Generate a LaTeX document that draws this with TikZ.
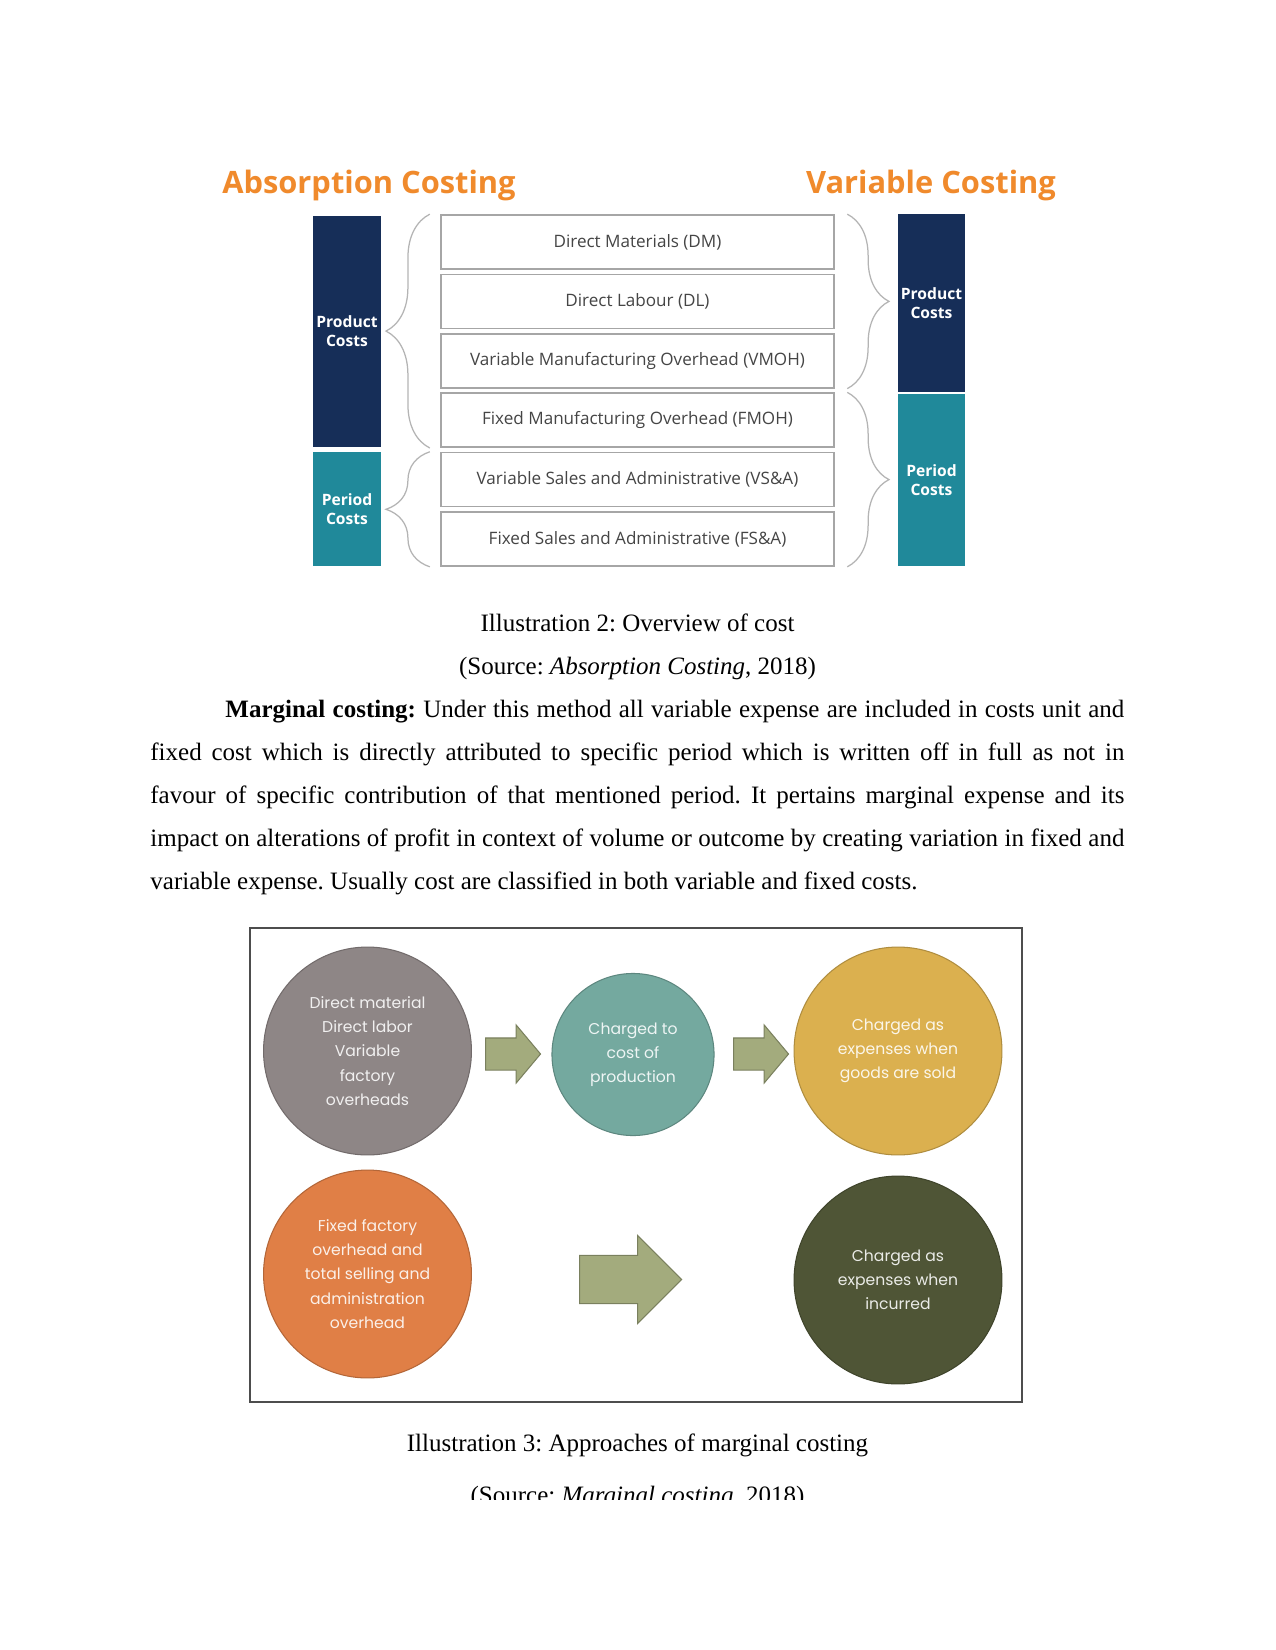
\documentclass[tikz,border=0pt]{standalone}
\usepackage{fontspec}
\setmainfont{Liberation Serif}
\newfontfamily\uifont{Open Sans}
\newfontfamily\roundfont{Poppins}
\usetikzlibrary{shapes.arrows,decorations.pathreplacing}
\frenchspacing
\definecolor{titleorange}{HTML}{F08A2C}
\definecolor{navybar}{HTML}{162E58}
\definecolor{tealbar}{HTML}{20899A}
\definecolor{boxline}{HTML}{A6A6A6}
\definecolor{boxtext}{HTML}{454545}
\definecolor{bracegray}{HTML}{B4B4B4}
\definecolor{greycirc}{HTML}{8E8686}
\definecolor{tealcirc}{HTML}{74A99F}
\definecolor{goldcirc}{HTML}{DBB04F}
\definecolor{orangecirc}{HTML}{E07F46}
\definecolor{olivecirc}{HTML}{4F5536}
\definecolor{arrowgreen}{HTML}{A3AB7D}
\definecolor{framegray}{HTML}{4D4D4D}
\begin{document}
\begin{tikzpicture}[x=0.48pt,y=-0.48pt,
  title/.style={inner sep=0, text=titleorange, font=\uifont\bfseries\fontsize{14.8}{17}\selectfont},
  costbox/.style={draw=boxline, line width=0.8pt, fill=white, minimum width=188.6pt, minimum height=25.9pt,
    inner sep=0, text=boxtext, font=\uifont\fontsize{8.2}{9.8}\selectfont},
  bar/.style={minimum width=32.6pt, inner sep=0, align=center, text=white, font=\uifont\bfseries\fontsize{7.5}{9}\selectfont},
  brc/.style={draw=bracegray, line width=0.6pt, decorate, decoration={brace, amplitude=#1}},
  capt/.style={anchor=base, inner sep=0, font=\fontsize{12}{14}\selectfont},
  disc/.style={circle, fill=#1, draw=#1!80!black, line width=0.5pt, inner sep=0, align=center,
    text=#1!12!white, font=\roundfont\fontsize{7.5}{11.6}\selectfont},
  blockarrow/.style={single arrow, anchor=tail, fill=arrowgreen, draw=arrowgreen!75!black, line width=0.5pt, inner xsep=0}]
\useasboundingbox[fill=white] (0,0) rectangle (1275,1650);

\node[title] (abs) at (369,185) {Absorption Costing};
\node[title] (var) at (931,185) {Variable Costing};

\foreach \i/\t in {1/Direct Materials (DM), 2/Direct Labour (DL), 3/Variable Manufacturing Overhead (VMOH),
    4/Fixed Manufacturing Overhead (FMOH), 5/Variable Sales and Administrative (VS\&A), 6/Fixed Sales and Administrative (FS\&A)}
  \node[costbox] (b\i) at (637.5,{242+59.4*(\i-1)}) {\t};

\node[bar, fill=navybar, minimum height=110.9pt] (lprod) at (347,331.5) {Product\\Costs};
\node[bar, fill=tealbar, minimum height=54.7pt] (lper) at (347,509) {Period\\Costs};
\node[bar, fill=navybar, minimum height=85.9pt] (rprod) at (931.5,303) {Product\\Costs};
\node[bar, fill=tealbar, minimum height=82.6pt] (rper) at (931.5,480) {Period\\Costs};

\draw[brc=21pt] ([xshift=-5pt]b4.south west) -- ([xshift=-5pt]b1.north west);
\draw[brc=21pt] ([xshift=-5pt]b6.south west) -- ([xshift=-5pt]b5.north west);
\draw[brc=20pt] ([xshift=6pt]b1.north east) -- ([xshift=6pt]b3.south east);
\draw[brc=20pt] ([xshift=6pt]b4.north east) -- ([xshift=6pt]b6.south east);

\node[capt] (cap2) at (637.5,631) {Illustration 2: Overview of cost};
\node[capt] (src2) at (637.5,674) {(Source: \textit{Absorption Costing}, 2018)};

\node[anchor=base west, inner sep=0, text width=467.5pt, align=justify, font=\fontsize{12}{20.7}\selectfont] (para) at (150,717)
  {\hspace*{36pt}\textbf{Marginal costing:} Under this method all variable expense are included in costs unit and\linebreak
   fixed cost which is directly attributed to specific period which is written off in full as not in\linebreak
   favour of specific contribution of that mentioned period. It pertains marginal expense and its\linebreak
   impact on alterations of profit in context of volume or outcome by creating variation in fixed and\linebreak
   variable expense. Usually cost are classified in both variable and fixed costs.};

\draw[framegray, line width=1.3pt] (250,928) rectangle (1022,1402);

\node[disc=greycirc, minimum size=99.8pt] (c1) at (367.5,1051) {Direct material\\Direct labor\\Variable\\factory\\overheads};
\node[disc=tealcirc, minimum size=77.8pt] (c2) at (633,1054.5) {Charged to\\cost of\\production};
\node[disc=goldcirc, minimum size=99.8pt] (c3) at (898,1051) {Charged as\\expenses when\\goods are sold};
\node[disc=orangecirc, minimum size=99.8pt] (c4) at (367.5,1274) {Fixed factory\\overhead and\\total selling and\\administration\\overhead};
\node[disc=olivecirc, minimum size=99.8pt] (c5) at (898,1280) {Charged as\\expenses when\\incurred};

\node[blockarrow, minimum height=26.4pt, inner ysep=7.44pt, single arrow head extend=6.24pt, single arrow tip angle=100] (a1) at (485,1054) {};
\node[blockarrow, minimum height=26.4pt, inner ysep=7.44pt, single arrow head extend=6.24pt, single arrow tip angle=100] (a2) at (733,1054) {};
\node[blockarrow, minimum height=49pt, inner ysep=11.3pt, single arrow head extend=9.6pt, single arrow tip angle=90] (a3) at (579,1279.5) {};

\node[capt] (cap3) at (637.5,1451) {Illustration 3: Approaches of marginal costing};
\begin{scope}
\clip (0,0) rectangle (1275,1499);
\node[capt] (src3) at (637.5,1503) {(Source: \textit{Marginal costing}, 2018)};
\end{scope}
\end{tikzpicture}
\end{document}
